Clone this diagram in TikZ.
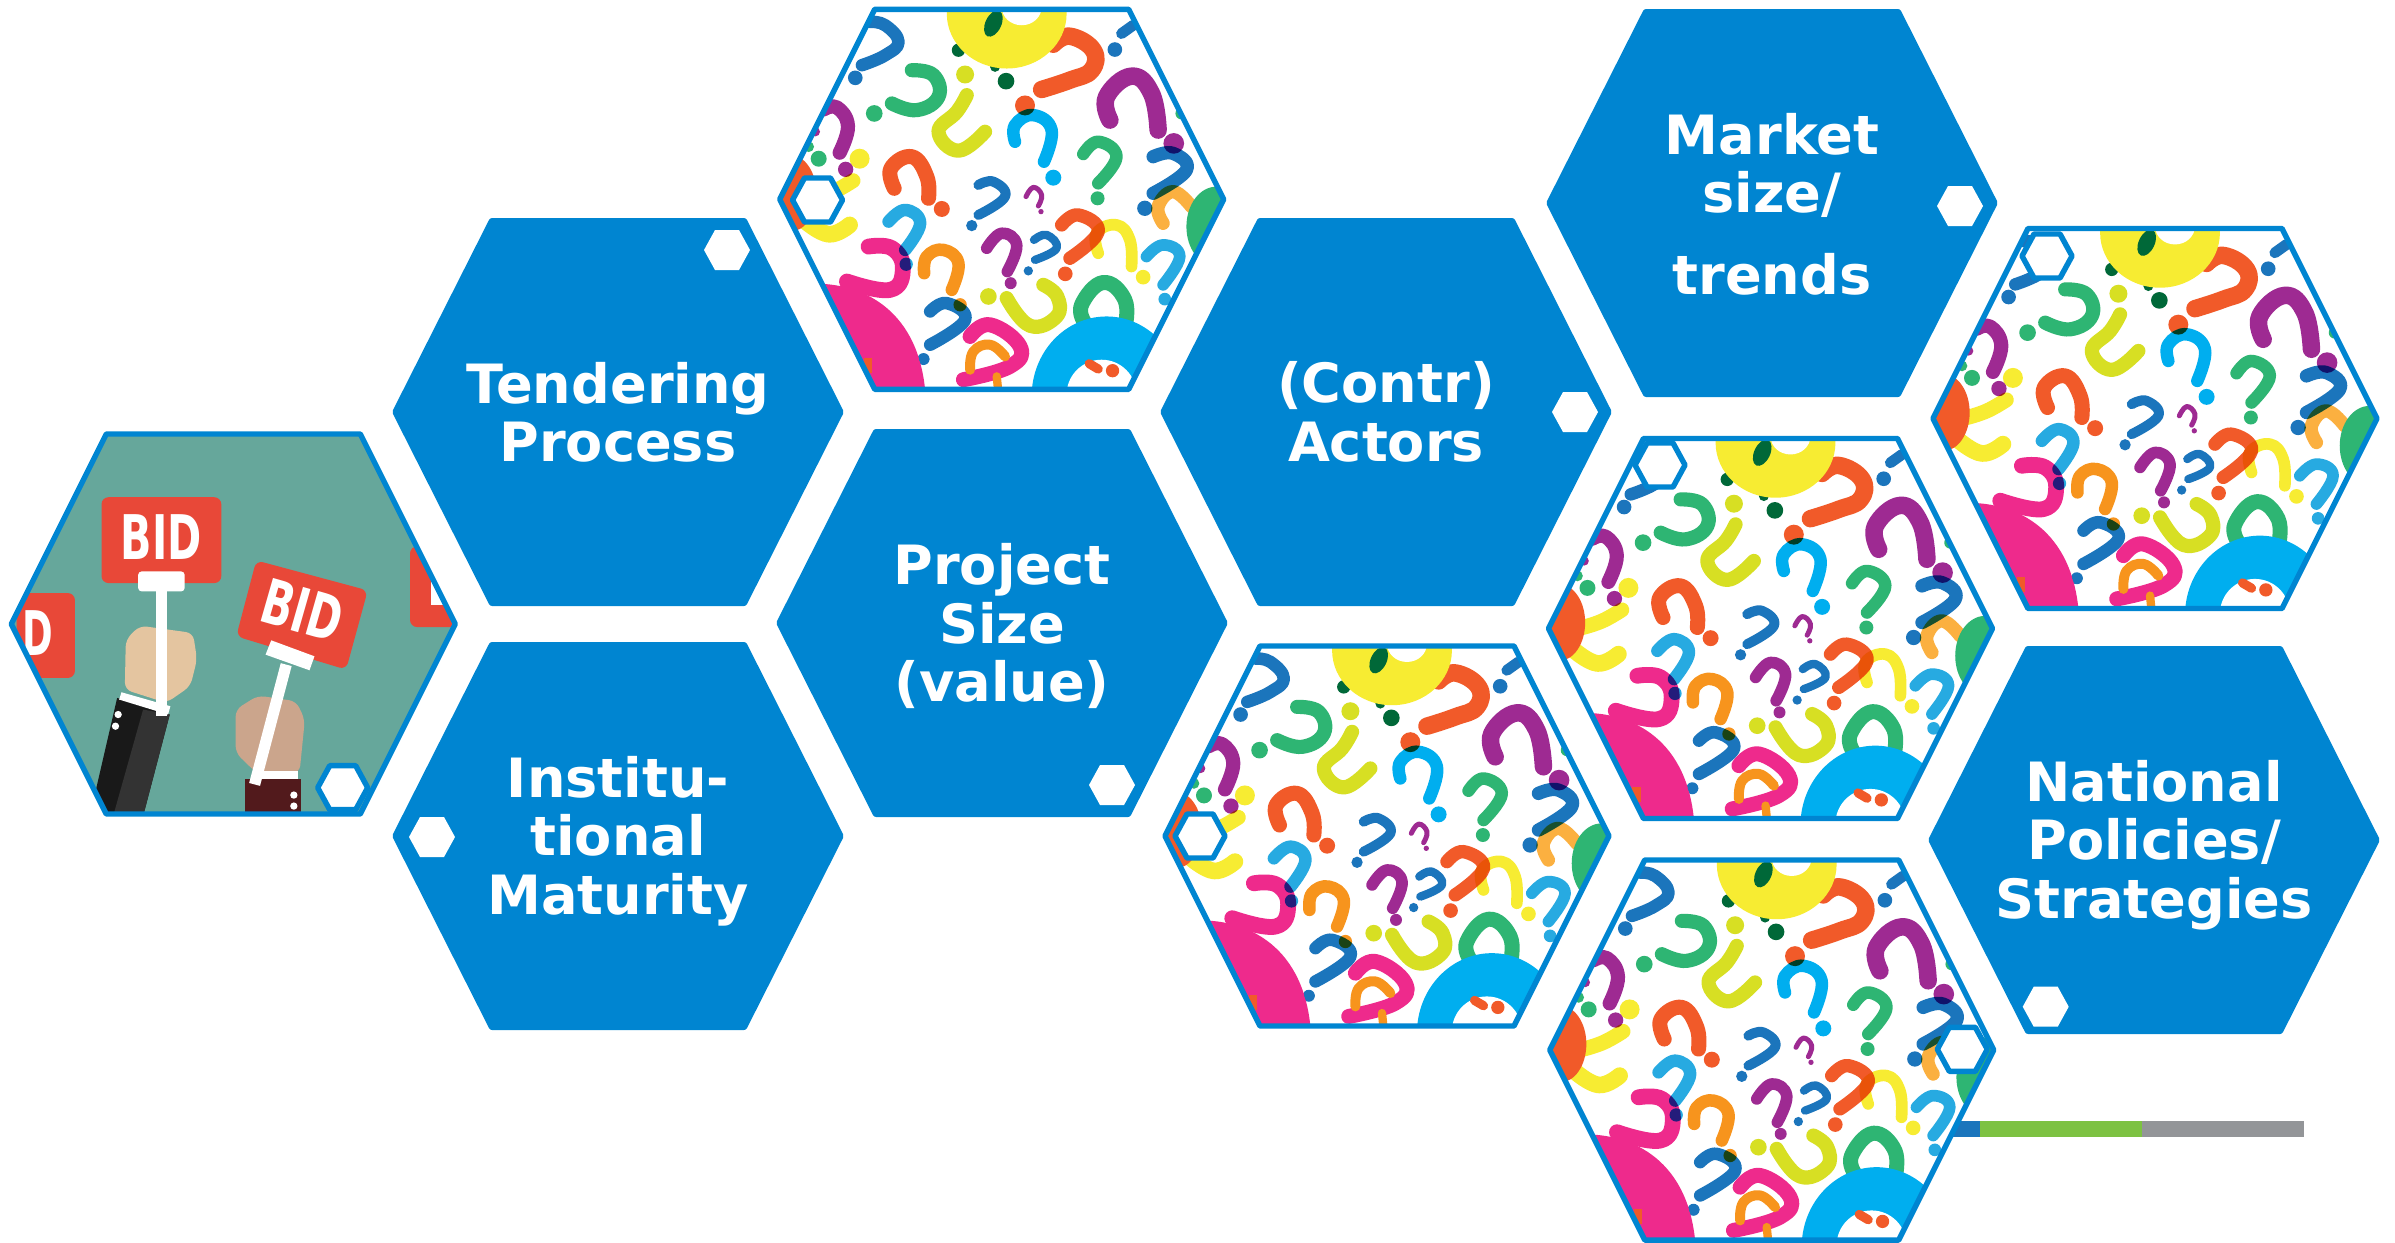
\documentclass[tikz,border=0pt]{standalone}
\usepackage{fontspec}
\setmainfont{DejaVu Sans}
\usetikzlibrary{calc}
\definecolor{hexblue}{RGB}{0,133,209}
\definecolor{qblue}{RGB}{27,117,188}
\definecolor{qlblue}{RGB}{39,170,225}
\definecolor{qcyan}{RGB}{0,174,239}
\definecolor{qgreen}{RGB}{46,181,115}
\definecolor{qdkgreen}{RGB}{0,104,56}
\definecolor{qlime}{RGB}{215,223,35}
\definecolor{qyellow}{RGB}{247,236,50}
\definecolor{qred}{RGB}{241,90,41}
\definecolor{qorange}{RGB}{247,148,29}
\definecolor{qlorange}{RGB}{251,176,64}
\definecolor{qpurple}{RGB}{158,42,146}
\definecolor{qpink}{RGB}{238,42,140}
\definecolor{barblue}{RGB}{27,117,188}
\definecolor{bargreen}{RGB}{125,194,66}
\definecolor{bargrey}{RGB}{147,149,152}
\definecolor{bidteal}{RGB}{102,167,155}
\definecolor{bidred}{RGB}{232,72,56}
\definecolor{bidskin}{RGB}{228,197,160}
\definecolor{bidskinb}{RGB}{203,165,140}
\definecolor{bidmaroon}{RGB}{82,26,28}
\tikzset{
  bluehex/.style={fill=hexblue,rounded corners=0.6pt},
  framehex/.style={draw=hexblue,line width=1.55pt,line join=round},
  hexlabel/.style={text=white,align=center,inner sep=0pt,font=\bfseries\fontsize{15.4}{16.6}\selectfont},
  qline/.style={line width=#1*0.1185pt,line cap=round,line join=round},
  bidlabel/.style={text=white,inner sep=0pt,font=\bfseries\fontsize{17.5}{18}\selectfont},
}
% big hexagon (centre x, centre y)
\newcommand{\bighex}[2]{(#1,#2) ++(-226,0) -- ++(98,-194) -- ++(256,0) -- ++(98,194) -- ++(-98,194) -- ++(-256,0) -- cycle}
\newcommand{\framepath}[2]{(#1,#2) ++(-222,0) -- ++(95,-190) -- ++(254,0) -- ++(95,190) -- ++(-95,190) -- ++(-254,0) -- cycle}
\newcommand{\tinyhex}[2]{(#1,#2) ++(-23,0) -- ++(11,-20) -- ++(24,0) -- ++(11,20) -- ++(-11,20) -- ++(-24,0) -- cycle}
\newcommand{\frametiny}[2]{(#1,#2) ++(-25,0) -- ++(12,-22) -- ++(26,0) -- ++(12,22) -- ++(-12,22) -- ++(-26,0) -- cycle}
% question mark: colour, width, path, dot, radius
\newcommand{\qmark}[5]{\draw[qline=#2,draw=#1] plot[smooth,tension=.75] coordinates {#3}; \fill[#1] #4 circle[radius=#5];}
\newcommand{\qcurve}[3]{\draw[qline=#2,draw=#1] plot[smooth,tension=.75] coordinates {#3};}
\newcommand{\qdot}[3]{\fill[#1] #2 circle[radius=#3];}
\newcommand{\questionart}[2]{%
\begin{scope}[shift={(#1,#2)},x=0.003333cm,y=-0.003333cm,shift={(-695,-598)}]
\begin{scope}
\clip (27,598) -- (311,22) -- (1079,22) -- (1363,598) -- (1079,1174) -- (311,1174) -- cycle;
\fill[white] (0,0) rectangle (1400,1200);
\begin{scope}[blend mode=multiply]
\qdot{qdkgreen}{(708,243)}{25}\qdot{qdkgreen}{(565,150)}{20}\qdot{qdkgreen}{(675,200)}{15}
\qdot{qgreen}{(1235,340)}{18}\qdot{qgreen}{(115,440)}{16}
\fill[qyellow] (1180,950) -- (1200,930) -- (1210,940) -- (1175,985) -- cycle;
\qcurve{qyellow}{40}{(103,662)(175,703)(238,675)}
\qcurve{qyellow}{36}{(248,542)(190,575)(130,595)}
\qdot{qyellow}{(268,476)}{30}
\qmark{qpurple}{34}{(208,458)(233,378)(200,322)(160,328)}{(226,508)}{23}
\qdot{qpurple}{(135,395)}{14}
\qdot{qgreen}{(145,476)}{24}
\qmark{qblue}{30}{(275,195)(345,165)(385,125)(345,75)(300,65)}{(255,233)}{22}
\qdot{qblue}{(1035,148)}{22}
\qcurve{qblue}{26}{(1055,100)(1090,75)}
\qmark{qred}{42}{(815,268)(900,240)(965,210)(970,150)(900,108)(850,132)}{(765,316)}{30}
\qmark{qgreen}{34}{(365,310)(440,330)(505,290)(490,225)(425,210)}{(312,340)}{25}
\qmark{qlime}{34}{(590,285)(560,335)(505,395)(565,452)(645,395)}{(585,223)}{27}
\qmark{qcyan}{30}{(735,425)(735,375)(790,345)(845,390)(822,485)}{(850,533)}{24}
\qmark{qpurple}{42}{(1020,360)(1010,290)(1085,228)(1145,280)(1165,390)}{(1212,430)}{31}
\qmark{qgreen}{30}{(940,462)(985,425)(1040,470)(985,550)}{(983,595)}{21}
\qmark{qblue}{32}{(1150,470)(1210,460)(1250,510)(1150,580)}{(1125,625)}{23}
\qcurve{qlorange}{32}{(1180,670)(1165,620)(1210,575)(1265,620)}
\qmark{qred}{36}{(372,565)(362,505)(425,470)(470,530)(475,595)}{(515,627)}{24}
\qmark{qlblue}{30}{(355,665)(405,630)(450,670)(405,750)}{(408,793)}{20}
\qcurve{qpink}{38}{(295,740)(365,745)(398,805)(360,870)(230,845)}
\qmark{qorange}{30}{(462,820)(470,770)(520,750)(565,790)(545,870)}{(570,915)}{20}
\qmark{qblue}{30}{(480,935)(530,910)(585,960)(480,1035)}{(460,1078)}{18}
\qmark{qblue}{24}{(625,555)(670,545)(705,590)(625,645)}{(605,677)}{17}
\qmark{qpurple}{12}{(768,590)(790,562)(815,585)(805,618)}{(813,635)}{8}
\qmark{qyellow}{28}{(985,760)(980,700)(1040,675)(1080,720)(1085,800)}{(1120,832)}{22}
\qmark{qpurple}{28}{(650,745)(695,700)(740,735)(712,815)}{(722,850)}{18}
\qmark{qblue}{20}{(792,720)(830,705)(860,745)(795,780)}{(775,813)}{14}
\qmark{qred}{32}{(875,675)(925,645)(985,695)(900,775)}{(886,822)}{22}
\qmark{qlblue}{28}{(1130,770)(1180,735)(1230,770)(1180,855)}{(1185,898)}{19}
\qmark{qlime}{34}{(710,895)(780,978)(860,950)(862,890)(820,855)}{(655,890)}{25}
\qcurve{qgreen}{36}{(945,970)(935,915)(1000,848)(1065,900)(1065,985)}
\end{scope}
\fill[qred] (60,580) ellipse[x radius=78,y radius=115];
\fill[qgreen] (1340,680) ellipse[x radius=90,y radius=120];
\fill[qyellow] (710,40) ellipse[x radius=180,y radius=165];
\fill[white] (755,20) ellipse[x radius=60,y radius=55];
\fill[qdkgreen,rotate around={-25:(670,70)}] (670,70) ellipse[x radius=24,y radius=42];
\fill[qpink] (155,1240) -- (155,852) .. controls (310,860) and (470,960) .. (468,1240) -- cycle;
\fill[qred] (280,1075) rectangle (305,1120);
\qcurve{qpink}{36}{(600,1010)(660,975)(750,1040)(720,1100)(580,1140)}
\qcurve{qorange}{24}{(600,1110)(610,1055)(660,1035)(705,1070)}
\qcurve{qorange}{20}{(680,1130)(685,1180)}
\qdot{qblue}{(462,1078)}{16}
\fill[qcyan] (1010,1190) ellipse[x radius=225,y radius=240];
\fill[white] (995,1185) ellipse[x radius=105,y radius=105];
\qcurve{qred}{22}{(958,1092)(985,1108)}
\qdot{qred}{(1028,1113)}{20}
\end{scope}
\end{scope}}
\begin{document}
\begin{tikzpicture}[x=0.01cm,y=-0.01cm]
\useasboundingbox (0,0) rectangle (2395,1242);
% filled hexagons with labels
\fill[bluehex] \bighex{618}{412};
\node[hexlabel] (tendering) at (618,412) {Tendering\\Process};
\fill[bluehex] \bighex{618}{836};
\node[hexlabel] (institutional) at (618,841) {Institu-\\tional\\Maturity};
\fill[bluehex] \bighex{1002}{623};
\node[hexlabel] (project) at (1002,626) {Project\\Size\\(value)};
\fill[bluehex] \bighex{1386}{412};
\node[hexlabel] (actors) at (1386,412) {(Contr)\\Actors};
\fill[bluehex] \bighex{1772}{203};
\node[hexlabel] (market) at (1772,204) {Market\\size/\\[2.3mm]trends};
\fill[bluehex] \bighex{2154}{840};
\node[hexlabel] (national) at (2154,845) {National\\Policies/\\Strategies};
% small white markers
\fill[white] \tinyhex{727}{250};
\fill[white] \tinyhex{432}{837};
\fill[white] \tinyhex{1112}{785};
\fill[white] \tinyhex{1575}{412};
\fill[white] \tinyhex{1960}{206};
\fill[white] \tinyhex{2045.7}{1006.7};
% progress bar
\fill[barblue] (1950,1121) rectangle (1980,1137);
\fill[bargreen] (1980,1121) rectangle (2142,1137);
\fill[bargrey] (2142,1121) rectangle (2304,1137);
% bid picture
\begin{scope}
\clip \framepath{233.3}{624};
\fill[bidteal] (0,420) rectangle (470,830);
\begin{scope}[shift={(0,420)},x=0.003333cm,y=-0.003333cm]
\fill[bidred,rounded corners=2pt] (50,520) rectangle (225,775);
\node[bidlabel] (bidc) at (115,640) {\scalebox{0.6}[1]{D}};
\fill[bidred,rounded corners=2pt] (1232,380) rectangle (1400,622);
\fill[white] (1295,480) rectangle (1400,555);
\fill[bidred,rounded corners=2pt] (305,232) rectangle (665,490);
\node[bidlabel] (bida) at (485,352) {\scalebox{0.67}[1]{BID}};
\fill[bidred,rounded corners=2pt] (770,422) -- (1105,512) -- (1040,750) -- (710,650) -- cycle;
\node[bidlabel,rotate=-16] (bidb) at (908,572) {\scalebox{0.67}[1]{BID}};
% left arm
\fill[bidskin,rounded corners=2pt] (378,660) -- (420,618) -- (580,640) -- (592,720) -- (572,800) -- (500,850) -- (375,810) -- cycle;
\fill[black!90] (352,835) -- (510,885) -- (430,1190) -- (270,1190) -- cycle;
\fill[black!80] (430,870) -- (510,885) -- (430,1190) -- (340,1190) -- cycle;
\fill[white] (365,818) -- (512,860) -- (505,885) -- (358,840) -- cycle;
\fill[white] (468,510) rectangle (503,890);
\fill[white,rounded corners=1pt] (415,455) rectangle (555,515);
\fill[white] (355,885) circle[radius=11];
\fill[white] (347,920) circle[radius=11];
% right arm
\fill[bidskinb,rounded corners=2pt] (708,870) -- (775,828) -- (890,845) -- (916,900) -- (900,1060) -- (770,1060) -- (708,1000) -- cycle;
\fill[bidmaroon] (735,1080) rectangle (905,1190);
\fill[white] (775,1055) rectangle (895,1080);
\draw[white,line width=3.2pt] (860,735) -- (765,1095);
\fill[white] (815,662) -- (945,710) -- (930,752) -- (798,705) -- cycle;
\fill[white] (883,1127) circle[radius=11];
\fill[white] (883,1160) circle[radius=11];
\end{scope}
\end{scope}
\draw[framehex] \framepath{233.3}{624};
\draw[framehex,fill=white] \frametiny{342.7}{787.7};
% question pictures
\questionart{1001.7}{199.3}
\draw[framehex] \framepath{1001.7}{199.3};
\draw[framehex,fill=white] \frametiny{817.5}{200};
\questionart{2155}{418.5}
\draw[framehex] \framepath{2155}{418.5};
\draw[framehex,fill=white] \frametiny{2047}{256};
\questionart{1770.5}{628.5}
\draw[framehex] \framepath{1770.5}{628.5};
\draw[framehex,fill=white] \frametiny{1660}{465};
\questionart{1387}{836}
\draw[framehex] \framepath{1387}{836};
\draw[framehex,fill=white] \frametiny{1200}{836};
\questionart{1771.7}{1050}
\draw[framehex] \framepath{1771.7}{1050};
\draw[framehex,fill=white] \frametiny{1962.3}{1049.3};
\end{tikzpicture}
\end{document}
